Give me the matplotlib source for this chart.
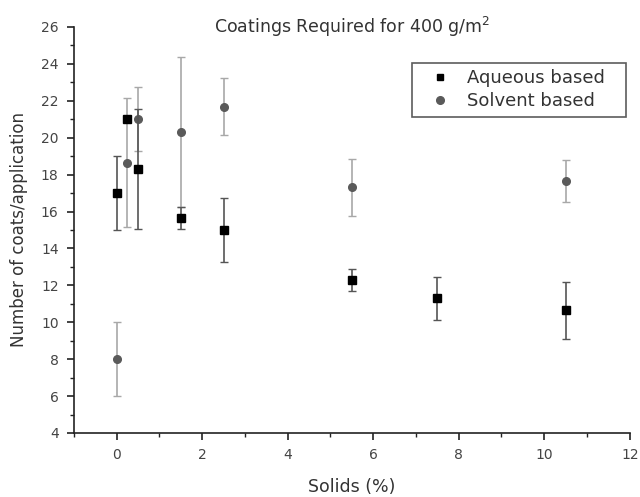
import matplotlib.pyplot as plt
from matplotlib.lines import Line2D
from matplotlib.ticker import MultipleLocator

plt.rcParams['font.family'] = ['DejaVu Sans']

# Aqueous based coatings
aq_x = [0, 0.25, 0.5, 1.5, 2.5, 5.5, 7.5, 10.5]
aq_y = [17.0, 21.0, 18.3, 15.65, 15.0, 12.3, 11.3, 10.65]
aq_err = [2.0, 0.0, 3.27, 0.6, 1.72, 0.6, 1.17, 1.55]

# Solvent based coatings
sv_x = [0, 0.25, 0.5, 1.5, 2.5, 5.5, 10.5]
sv_y = [8.0, 18.65, 21.0, 20.33, 21.67, 17.32, 17.66]
sv_err = [2.0, 3.5, 1.73, 4.07, 1.55, 1.55, 1.15]

fig = plt.figure(figsize=(6.4, 4.97), dpi=100)
ax = fig.add_axes([0.1155, 0.1288, 0.8685, 0.8169])

ax.errorbar(sv_x, sv_y, yerr=sv_err, fmt='o', color='#5a5a5a', ecolor='#a8a8a8',
            elinewidth=1.2, capsize=3, capthick=1.0, markersize=5.5, zorder=3)
ax.errorbar(aq_x, aq_y, yerr=aq_err, fmt='s', color='black', ecolor='#555555',
            elinewidth=1.2, capsize=3, capthick=1.0, markersize=5.2, zorder=4)

ax.set_xlim(-1, 12)
ax.set_ylim(4, 26)
ax.xaxis.set_major_locator(MultipleLocator(2))
ax.xaxis.set_minor_locator(MultipleLocator(1))
ax.yaxis.set_major_locator(MultipleLocator(2))
ax.yaxis.set_minor_locator(MultipleLocator(1))

for side in ['top', 'right']:
    ax.spines[side].set_visible(False)
for side in ['left', 'bottom']:
    ax.spines[side].set_linewidth(1.2)
    ax.spines[side].set_color('#222222')

ax.tick_params(which='major', direction='out', length=5, width=1.2, color='#222222',
               labelsize=10, labelcolor='#444444', pad=6)
ax.tick_params(which='minor', direction='out', length=3, width=1.0, color='#222222')

ax.set_xlabel('Solids (%)', fontsize=12.5, color='#333333', labelpad=11)
ax.set_ylabel('Number of coats/application', fontsize=12, color='#333333', labelpad=9)
ax.text(0.5, 1.0, 'Coatings Required for 400 g/m$^2$', transform=ax.transAxes,
        ha='center', va='center', fontsize=12.5, color='#333333')

# legend shows markers only, no error bars
handles = [Line2D([], [], ls='none', marker='s', color='black', markersize=5),
           Line2D([], [], ls='none', marker='o', color='#5a5a5a', markersize=5.5)]
leg = ax.legend(handles, ['Aqueous based', 'Solvent based'], loc='upper left',
                bbox_to_anchor=(0.608, 0.912, 0.385, 0.0), mode='expand',
                fontsize=13, frameon=True, fancybox=False, edgecolor='#333333',
                handletextpad=0.3, borderpad=0.35, labelspacing=0.3, handlelength=2.4,
                borderaxespad=0)
leg.get_frame().set_linewidth(1.2)
for t in leg.get_texts():
    t.set_color('#333333')

fig.savefig('out.png', dpi=100)
